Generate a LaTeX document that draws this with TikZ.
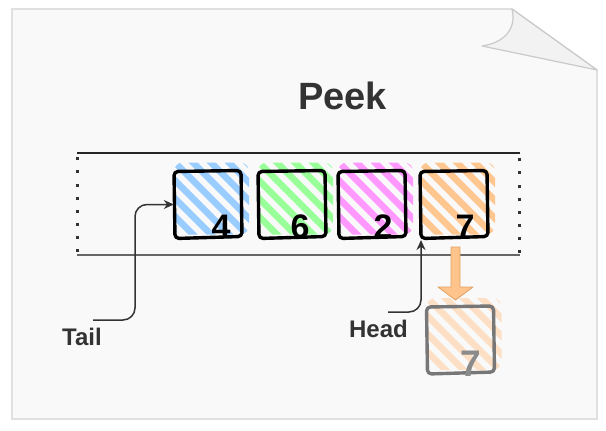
\documentclass[tikz,border=0pt]{standalone}
\usepackage{fontspec}
\setmainfont{Liberation Sans}
\usetikzlibrary{arrows.meta,calc}
\definecolor{paperfill}{HTML}{F9F9F9}
\definecolor{paperline}{HTML}{E0E0E0}
\definecolor{flapfill}{HTML}{F2F2F2}
\definecolor{txt}{HTML}{333333}
\definecolor{hblue}{HTML}{99CCFF}
\definecolor{hgreen}{HTML}{99FF99}
\definecolor{hpink}{HTML}{FF99FF}
\definecolor{horange}{HTML}{FFC690}
\definecolor{arrfill}{HTML}{FFC48C}
\definecolor{arrline}{HTML}{E0A060}
\definecolor{outline}{HTML}{777777}
\tikzset{
  conn/.style={draw=txt, line width=1.5pt, rounded corners=12pt, -{Stealth[length=10pt,width=9pt]}},
  dotmark/.style={fill=txt, draw=none},
  numtxt/.style={anchor=base, inner sep=0pt, font=\bfseries\fontsize{34}{36}\selectfont},
  lbl/.style={anchor=base, inner sep=0pt, text=txt, font=\bfseries\fontsize{24}{26}\selectfont}
}
% #1 name, #2 cx, #3 cy, #4 hatch style, #5 border style
\newcommand\sketchsq[5]{%
  \begin{scope}
    \clip[rounded corners=9pt] (#2-34,#3-42) rectangle (#2+41,#3+30);
    \foreach \k in {-126,-108,...,54} \draw[line width=6.5pt, #4] (#2+\k,#3-45) -- ++(100,100);
  \end{scope}
  \draw[#5, line width=3.4pt, rounded corners=4pt, line join=round]
    (#2-34,#3-33) -- (#2+33,#3-34) -- (#2+34,#3+32) -- (#2-33,#3+34) -- cycle;
  \node[inner sep=0pt, minimum width=68pt, minimum height=68pt] (#1) at (#2,#3) {};
}
\begin{document}
\begin{tikzpicture}[x=1pt,y=-1pt]
\useasboundingbox (0,0) rectangle (606,431);
% paper
\fill[white] (0,0) rectangle (606,431);
\draw[fill=paperfill, draw=paperline, line width=1.6pt]
  (12,9) -- (512,9) -- (597,70) -- (597,419) -- (12,419) -- cycle;
\draw[fill=flapfill, draw=paperline!90!black, line width=1.2pt, line join=round]
  (512,9) .. controls (517,30) and (503,43) .. (482,46) -- (597,70) -- cycle;
% title
\node[anchor=base, inner sep=0pt, text=txt, font=\bfseries\fontsize{38}{40}\selectfont] (title) at (342.5,109.5) {Peek};
% queue frame
\draw[color=black!85, line width=1.8pt] (77,153) -- (520,153);
\draw[color=black!60, line width=1.8pt] (77,255) -- (520,255);
\foreach \i in {0,...,7} {
  \fill[dotmark] (76,157.2+13.15*\i) rectangle ++(3,3);
  \fill[dotmark] (518,158.2+13.15*\i) rectangle ++(3,3);
}
% elements
\sketchsq{b4}{208}{204.5}{hblue}{black}
\sketchsq{b6}{292}{204.5}{hgreen}{black}
\sketchsq{b2}{372}{204.5}{hpink}{black}
\sketchsq{b7}{454}{204.5}{horange}{black}
\node[numtxt] (n4) at (221,238) {4};
\node[numtxt] (n6) at (300,238) {6};
\node[numtxt] (n2) at (383,238) {2};
\node[numtxt] (n7) at (465,238) {7};
% output element
\sketchsq{out}{460.5}{340}{horange, opacity=0.5}{outline}
\node[numtxt, text=outline!85!white, font=\bfseries\fontsize{37}{38}\selectfont] (o7) at (471,376) {7};
% peek arrow
\draw[fill=arrfill, draw=arrline, line width=0.8pt, line join=round]
  (451,247) -- (460,247) -- (460,287) -- (473,287) -- (455.5,300) -- (438,287) -- (451,287) -- cycle;
% labels
\node[lbl] (tail) at (82,345) {Tail};
\node[lbl] (head) at (378.5,337) {Head};
\coordinate (tstart) at (93,320);
\coordinate (hstart) at (388,312);
\coordinate (hend) at (421,240);
\draw[conn] (tstart) -- (135,320) -- (135,204.5) -- (b4.west);
\draw[conn] (hstart) -- (421,312) -- (hend);
\end{tikzpicture}
\end{document}
